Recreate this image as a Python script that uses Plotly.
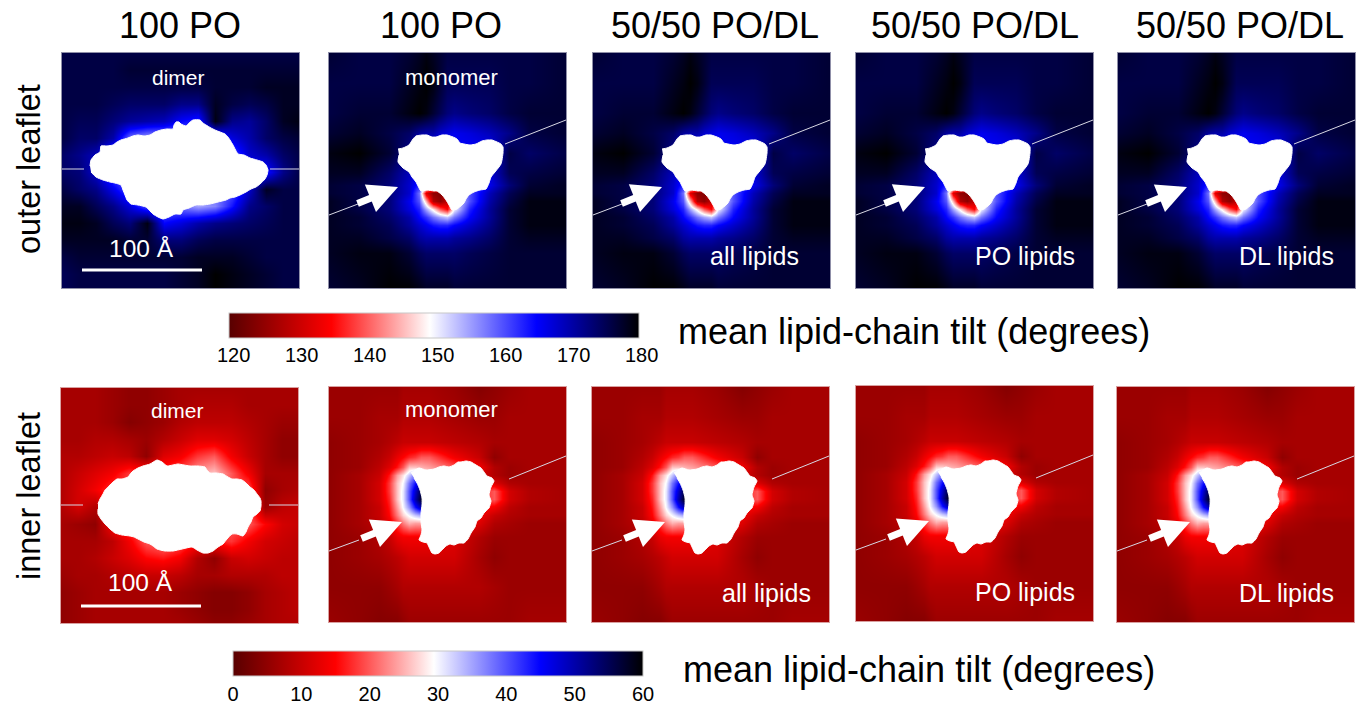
import plotly.graph_objects as go

W, H = 1356, 706
FONT = "Liberation Sans"
COLORS = [[0, "#580000"], [0.25, "#ff0000"], [0.49, "#ffffff"], [0.75, "#0000ff"], [1, "#000000"]]

TITLES = ["100 PO", "100 PO", "50/50 PO/DL", "50/50 PO/DL", "50/50 PO/DL"]
TITLE_X = [180, 441, 715, 975, 1240]
OUTER_TICKS = [120, 130, 140, 150, 160, 170, 180]
INNER_TICKS = [0, 10, 20, 30, 40, 50, 60]

# ---- dimer fields
D_X = [0, 17, 34, 51, 68, 85, 102, 119, 136, 153, 170, 187, 204, 221, 238]
D_Y = [0, 17, 34, 51, 68, 85, 102, 119, 136, 153, 170, 187, 204, 221, 238]
OUTER_DIMER = [
    [176,176,176,176,176,176,176,176,176,176,176,176,176,176,176],
    [176,176,176,176,177,177,177,177,177,177,177,177,177,177,177],
    [176,176,176,176,176,176,176,176,176,177,177,177,178,178,178],
    [176,176,176,175,174,174,174,172,172,178,176,175,176,178,178],
    [176,175,175,173,171,170,169,165,163,179,172,171,174,178,179],
    [176,174,174,170,158,155,155,156,158,160,167,170,174,176,177],
    [174,172,169,160,158,158,158,158,158,158,160,168,170,174,176],
    [174,173,168,160,158,158,158,158,158,158,160,162,164,172,176],
    [176,174,172,166,160,158,158,158,158,158,160,168,178,176,176],
    [178,178,175,172,167,160,158,158,155,157,164,172,174,176,176],
    [179,179,178,175,173,179,165,167,170,172,173,174,175,176,176],
    [178,178,178,178,177,177,173,173,175,176,176,176,176,176,176],
    [176,177,177,177,177,177,177,177,178,178,178,177,176,176,176],
    [175,176,176,176,176,176,176,177,178,180,179,178,177,176,176],
    [175,176,176,176,176,176,176,177,178,180,179,178,177,176,176],
]
INNER_DIMER = [
    [7,7,7,6,5,5,6,7,7,7,7,7,7,7,7],
    [7,7,7,6,5,5,6,7,8,8,8,7,7,7,7],
    [7,7,7,6,4,5,6,8,9,9,9,8,7,6,6],
    [7,7,8,8,7,6,8,10,12,12,11,9,7,5,5],
    [8,8,9,10,9,5,12,14,18,20,14,10,7,5,5],
    [8,10,12,14,18,18,18,20,24,26,20,14,7,7,7],
    [8,11,14,18,20,20,20,20,20,20,20,20,5,7,8],
    [8,11,8,15,20,20,20,20,20,20,20,20,6,9,10],
    [7,6,5,15,20,20,20,20,20,20,20,20,15,11,10],
    [7,7,7,9,14,20,22,20,16,16,18,14,11,10,9],
    [7,7,8,10,12,15,16,14,8,5,10,11,10,9,9],
    [6,7,7,8,9,10,10,9,7,7,8,8,8,9,9],
    [5,6,7,7,7,7,7,6,5,4,4,5,7,8,9],
    [5,6,7,7,7,7,7,6,5,4,4,5,7,8,9],
    [5,6,7,7,7,7,7,7,6,5,5,6,7,8,8],
]

# ---- monomer fields (finer nodes around the pocket)
OM_X = [0, 30, 60, 80, 90, 97, 104, 111, 118, 125, 140, 160, 180, 200, 238]
OM_Y = [0, 30, 60, 80, 100, 120, 132, 140, 148, 156, 164, 172, 185, 200, 238]
OUTER_MONOMER = [
    [177,176,176,177,178,179,178,177,176,176,176,176,176,176,177],
    [176,176,176,178,179,180,179,177,175,175,175,175,176,176,177],
    [176,177,177,179,180,179,177,175,173,172,173,174,176,177,177],
    [177,178,176,174,171,170,170,168,167,166,167,169,172,176,177],
    [179,180,177,172,165,165,165,165,165,165,165,165,176,174,176],
    [178,178,174,169,165,165,165,165,165,165,165,167,175,176,177],
    [177,176,173,168,163,158,150,140,140,150,160,166,173,177,178],
    [177,176,173,168,158,132,125,124,130,150,160,169,175,178,178],
    [178,176,173,166,160,145,128,125,130,148,160,170,176,179,179],
    [178,176,173,167,163,155,148,140,135,150,163,171,177,179,179],
    [178,177,174,170,165,162,158,155,153,158,165,171,177,179,179],
    [178,177,175,171,168,166,164,163,163,165,168,172,177,179,179],
    [178,178,176,174,171,170,170,170,170,171,172,174,177,178,178],
    [178,179,179,177,175,174,174,174,174,174,175,176,177,177,177],
    [177,178,180,180,179,178,178,178,178,177,177,177,177,177,177],
]
IM_X = [0, 30, 50, 60, 68, 74, 80, 86, 92, 100, 125, 150, 165, 180, 200, 238]
IM_Y = [0, 30, 55, 70, 80, 88, 96, 104, 112, 120, 128, 136, 150, 170, 200, 238]
INNER_MONOMER = [
    [6,6,6,6,6,7,7,7,7,7,6,4,5,6,7,7],
    [6,6,7,7,7,8,8,8,8,8,7,6,6,7,7,7],
    [5,6,7,8,9,10,10,10,10,10,9,8,7,7,7,7],
    [5,6,8,10,13,15,17,18,20,20,14,10,5,7,7,7],
    [5,6,9,12,16,20,26,26,25,24,20,14,8,6,7,7],
    [5,7,10,16,24,28,33,38,30,28,22,12,8,6,7,7],
    [5,7,11,18,26,30,38,44,50,30,22,14,12,8,7,7],
    [5,7,11,18,26,31,40,48,56,30,22,16,20,11,8,7],
    [5,7,11,17,26,31,40,50,58,30,22,16,20,11,8,7],
    [5,7,10,16,24,30,36,44,50,30,22,16,14,9,7,7],
    [5,7,10,15,22,27,30,33,35,28,20,14,10,8,7,7],
    [5,7,9,13,18,22,25,24,24,22,16,12,8,7,6,6],
    [5,6,8,10,13,14,14,14,14,14,12,8,6,6,6,6],
    [5,6,7,8,9,10,11,11,11,11,11,7,5,6,6,6],
    [5,5,5,6,7,8,8,8,8,8,8,8,7,6,6,6],
    [6,5,4,4,4,5,6,6,6,6,6,6,6,6,7,7],
]

# ---- protein outlines
OD_BLOB = [(28,113),(29,107),(33,102),(38,99),(39,93),(45,93),(51,92),(55,89),(59,87),(66,85),(71,83),(76,82),(82,83),(88,82),(93,79),(99,77),(105,76),(111,76),(112,72),(114,69),(117,69),(119,71),(124,73),(127,70),(131,67),(138,67),(141,70),(144,72),(149,75),(153,77),(158,79),(163,81),(166,84),(168,87),(171,92),(173,96),(176,101),(182,102),(188,105),(195,107),(201,109),(204,112),(206,117),(205,122),(203,126),(198,131),(194,134),(189,136),(184,139),(178,142),(173,144),(168,145),(164,147),(156,149),(148,151),(141,152),(134,152),(127,155),(121,157),(119,161),(113,161),(107,164),(101,166),(96,164),(91,161),(87,157),(84,154),(76,152),(69,151),(65,147),(63,142),(61,137),(59,132),(53,130),(48,129),(41,127),(34,124),(29,119)]
OM_BLOB = [(69,96),(74,95),(80,92),(84,86),(87,83),(93,82),(98,82),(103,84),(107,84),(113,82),(118,82),(124,84),(128,86),(131,90),(135,91),(141,92),(147,91),(153,88),(158,87),(163,87),(168,89),(172,91),(174,94),(174,100),(173,107),(172,111),(170,114),(166,119),(162,124),(160,130),(157,136),(151,137),(145,139),(140,142),(137,146),(135,150),(133,152),(128,156),(123,157),(120,152),(117,147),(114,143),(112,141),(108,138),(105,138),(98,137),(92,138),(89,133),(87,129),(83,124),(80,119),(74,115),(69,109),(70,102)]
ID_BLOB = [(37,116),(39,111),(42,106),(44,102),(47,99),(51,95),(56,91),(61,91),(67,89),(70,85),(72,83),(77,80),(82,78),(89,76),(96,72),(101,74),(106,78),(112,77),(117,76),(123,77),(129,78),(137,78),(144,79),(146,82),(149,85),(155,85),(162,86),(167,89),(171,91),(176,91),(181,92),(185,95),(189,99),(193,102),(196,106),(199,110),(200,113),(200,118),(199,123),(196,126),(192,129),(190,134),(187,139),(185,144),(182,148),(176,146),(171,146),(166,151),(162,156),(157,159),(152,163),(147,165),(142,165),(136,162),(131,159),(121,161),(112,163),(104,163),(96,161),(92,158),(89,156),(83,154),(77,151),(73,149),(69,148),(61,147),(54,145),(49,141),(44,136),(40,131),(37,126),(37,121)]
IM_BLOB = [(82,86),(86,83),(90,81),(97,83),(105,82),(110,80),(115,79),(120,80),(125,78),(129,75),(132,75),(137,74),(142,75),(147,78),(152,81),(155,85),(158,89),(163,91),(165,94),(162,100),(160,108),(162,114),(160,121),(157,124),(155,126),(152,131),(148,134),(146,140),(142,146),(139,152),(135,156),(130,156),(125,158),(121,157),(117,159),(113,163),(110,166),(106,167),(103,166),(100,160),(98,156),(94,155),(90,153),(92,148),(93,143),(92,135),(92,126),(93,118),(93,111),(91,103),(88,96),(85,91)]

PANELS = [
    dict(l=62,  t=53,  xs=D_X,  ys=D_Y,  z=OUTER_DIMER,   blob=OD_BLOB, ca="coloraxis",  top="dimer",   kind="d", ly=116, sy=217, sty=195, ty=24, border="#8f8fa8"),
    dict(l=329, t=53,  xs=OM_X, ys=OM_Y, z=OUTER_MONOMER, blob=OM_BLOB, ca="coloraxis",  top="monomer", kind="o", ty=24, border="#8f8fa8"),
    dict(l=593, t=53,  xs=OM_X, ys=OM_Y, z=OUTER_MONOMER, blob=OM_BLOB, ca="coloraxis",  low="all lipids", lx=161, lyy=203, lsize=25, kind="o", border="#8f8fa8"),
    dict(l=856, t=53,  xs=OM_X, ys=OM_Y, z=OUTER_MONOMER, blob=OM_BLOB, ca="coloraxis",  low="PO lipids", lx=169, lyy=203, lsize=25, kind="o", border="#8f8fa8"),
    dict(l=1118,t=53,  xs=OM_X, ys=OM_Y, z=OUTER_MONOMER, blob=OM_BLOB, ca="coloraxis",  low="DL lipids", lx=168, lyy=203, lsize=25, kind="o", border="#8f8fa8"),
    dict(l=61,  t=388, xs=D_X,  ys=D_Y,  z=INNER_DIMER,   blob=ID_BLOB, ca="coloraxis2", top="dimer",   kind="d", ly=117, sy=218, sty=194, ty=22, border="#d9a0a0"),
    dict(l=329, t=387, xs=IM_X, ys=IM_Y, z=INNER_MONOMER, blob=IM_BLOB, ca="coloraxis2", top="monomer", kind="i", ty=22, border="#d9a0a0"),
    dict(l=592, t=387, xs=IM_X, ys=IM_Y, z=INNER_MONOMER, blob=IM_BLOB, ca="coloraxis2", low="all lipids", lx=174, lyy=206, lsize=25, kind="i", border="#d9a0a0"),
    dict(l=856, t=386, xs=IM_X, ys=IM_Y, z=INNER_MONOMER, blob=IM_BLOB, ca="coloraxis2", low="PO lipids", lx=169, lyy=206, lsize=25, kind="i", border="#d9a0a0"),
    dict(l=1117,t=387, xs=IM_X, ys=IM_Y, z=INNER_MONOMER, blob=IM_BLOB, ca="coloraxis2", low="DL lipids", lx=169, lyy=206, lsize=25, kind="i", border="#d9a0a0"),
]
SIDE_X, SIDE_Y = 237, 235
GUIDES = {
    "o": dict(a=[(0, 162), (29, 151)], b=[(176, 91), (237, 67)], tail=(27, 151), tip=(69, 134)),
    "i": dict(a=[(0, 164), (30, 153)], b=[(180, 92), (237, 69)], tail=(31, 152), tip=(73, 135)),
}

fig = go.Figure()
annots = []
layout_axes = {}


def px(x):
    return x / W


def py(y):
    return 1 - y / H


for i, p in enumerate(PANELS):
    n = "" if i == 0 else str(i + 1)
    xa, ya = "x" + n, "y" + n
    layout_axes["xaxis" + n] = dict(domain=[px(p["l"]), px(p["l"] + SIDE_X)], range=[0, SIDE_X], anchor=ya,
                                    showgrid=False, zeroline=False, showticklabels=False, ticks="",
                                    showline=True, mirror=True, linecolor=p["border"], linewidth=1)
    layout_axes["yaxis" + n] = dict(domain=[py(p["t"] + SIDE_Y), py(p["t"])], range=[SIDE_Y, 0], anchor=xa,
                                    showgrid=False, zeroline=False, showticklabels=False, ticks="",
                                    showline=True, mirror=True, linecolor=p["border"], linewidth=1)
    fig.add_trace(go.Heatmap(x=p["xs"], y=p["ys"], z=p["z"], zsmooth="best", coloraxis=p["ca"],
                             xaxis=xa, yaxis=ya, hoverinfo="skip"))
    fig.add_trace(go.Scatter(x=[v[0] for v in p["blob"]], y=[v[1] for v in p["blob"]], mode="lines",
                             fill="toself", fillcolor="#ffffff",
                             line=dict(color="#ffffff", width=1, shape="spline", smoothing=0.5),
                             xaxis=xa, yaxis=ya, hoverinfo="skip", showlegend=False))

    def seg(pts, color="#d8d8e4", width=1):
        fig.add_trace(go.Scatter(x=[v[0] for v in pts], y=[v[1] for v in pts], mode="lines",
                                 line=dict(color=color, width=width), xaxis=xa, yaxis=ya,
                                 hoverinfo="skip", showlegend=False))

    def label(x, y, text, size):
        annots.append(dict(x=x, y=y, xref=xa, yref=ya, text=text, showarrow=False,
                           font=dict(family=FONT, size=size, color="#ffffff")))

    if p["kind"] == "d":
        seg([(0, p["ly"]), (22, p["ly"])])
        seg([(208, p["ly"]), (SIDE_X, p["ly"])])
        seg([(20, p["sy"]), (140, p["sy"])], "#ffffff", 3)
        label(79, p["sty"], "100 Å", 24.5)
    else:
        g = GUIDES[p["kind"]]
        seg(g["a"])
        seg(g["b"])
        annots.append(dict(x=g["tip"][0], y=g["tip"][1], ax=g["tail"][0], ay=g["tail"][1], xref=xa, yref=ya,
                           axref=xa, ayref=ya, text="", showarrow=True, arrowhead=2, arrowsize=0.85,
                           arrowwidth=7, arrowcolor="#ffffff", standoff=0, startstandoff=0))
    if "top" in p:
        label(116 if p["kind"] == "d" else 122, p["ty"], p["top"], 21 if p["kind"] == "d" else 22)
    if "low" in p:
        label(p["lx"], p["lyy"], p["low"], p["lsize"])


def text(x, y, s, size, anchor="center", angle=0):
    annots.append(dict(x=px(x), y=py(y), xref="paper", yref="paper", text=s, showarrow=False, textangle=angle,
                       xanchor=anchor, yanchor="middle", font=dict(family=FONT, size=size, color="#000000")))


for tx, t in zip(TITLE_X, TITLES):
    text(tx, 25, t, 36)
text(29, 169, "outer leaflet", 32.5, angle=-90)
text(29, 496, "inner leaflet", 32.5, angle=-90)
text(676, 331, "mean lipid-chain tilt (degrees)", 36, anchor="left")
text(681, 669, "mean lipid-chain tilt (degrees)", 36, anchor="left")
for v in OUTER_TICKS:
    text(233.5 + (v - OUTER_TICKS[0]) * 6.8, 355, str(v), 20)


def cax(lo, hi, ticks, left, right, top, show):
    return dict(cmin=lo, cmax=hi, colorscale=COLORS,
                colorbar=dict(orientation="h", x=px((left + right) / 2), xanchor="center", xref="paper",
                              y=py(top), yanchor="top", yref="paper", len=right - left, lenmode="pixels",
                              thickness=25, thicknessmode="pixels", outlinewidth=1, outlinecolor="#c8c8c8",
                              xpad=0, ypad=0, tickvals=ticks, ticks="", borderwidth=0, showticklabels=show,
                              tickfont=dict(family=FONT, size=20, color="#000000")))


fig.update_layout(width=W, height=H, margin=dict(l=0, r=0, t=0, b=0), paper_bgcolor="#ffffff",
                  plot_bgcolor="#ffffff", showlegend=False, annotations=annots,
                  coloraxis=cax(120, 180, OUTER_TICKS, 229, 639, 313, False),
                  coloraxis2=cax(0, 60, INNER_TICKS, 233, 643, 651, True),
                  **layout_axes)
fig.write_html("out.html", config=dict(displayModeBar=False),
               post_script="document.body.style.margin='0';")
